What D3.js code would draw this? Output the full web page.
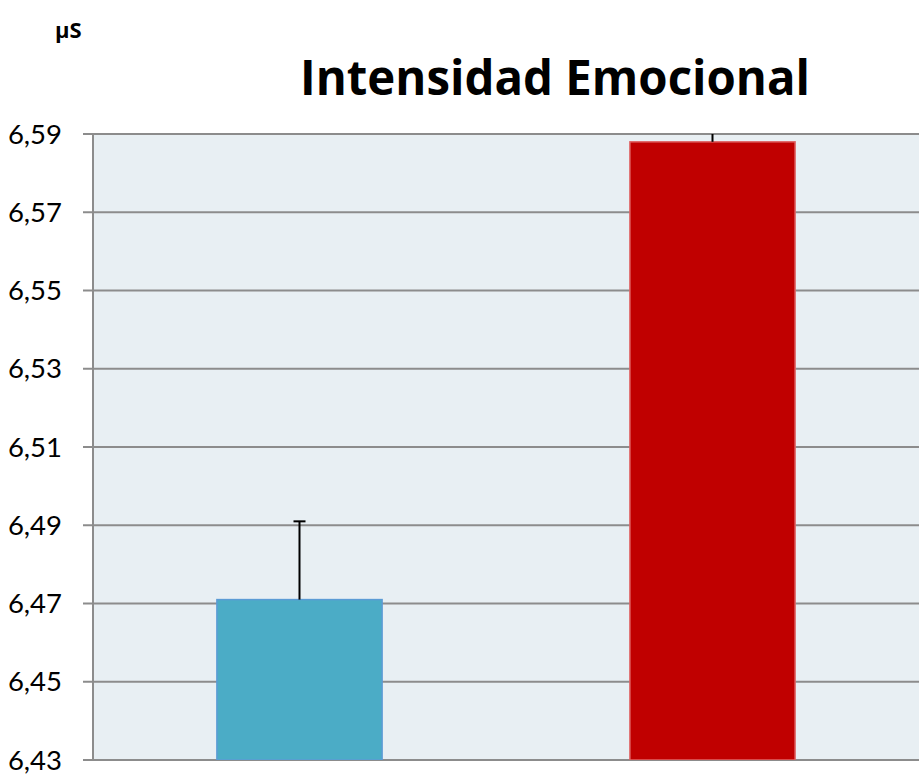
<!DOCTYPE html>
<html>
<head>
<meta charset="utf-8">
<script src="https://cdn.jsdelivr.net/npm/d3@7.9.0/dist/d3.min.js"></script>
<style>
  body { margin: 0; background: #fff; }
  svg { display: block; }
</style>
</head>
<body>
<svg id="chart" width="923" height="778"></svg>
<script>
// ====== DATA ======
const categories = ["Grupo A", "Grupo B"];
const values = [6.471, 6.588];
const errors = [0.020, 0.020];
const barColors = ["#4BACC6", "#C00000"];
const barStrokes = ["#5B9BD5", "#E06666"];
const yTicks = [6.43, 6.45, 6.47, 6.49, 6.51, 6.53, 6.55, 6.57, 6.59];

// ====== LAYOUT ======
const svg = d3.select("#chart");
const plotLeft = 93, plotRight = 919, plotTop = 134, plotBottom = 760;

const x = d3.scaleBand().domain(categories).range([plotLeft, plotRight]).paddingInner(0).paddingOuter(0);
const y = d3.scaleLinear().domain([6.43, 6.59]).range([plotBottom, plotTop]);
const fmt = d => d.toFixed(2).replace(".", ",");

// plot background
svg.append("rect")
  .attr("x", plotLeft).attr("y", plotTop)
  .attr("width", plotRight - plotLeft).attr("height", plotBottom - plotTop)
  .attr("fill", "#E8EFF3");

svg.append("defs").append("clipPath").attr("id", "plotClip")
  .append("rect").attr("x", plotLeft).attr("y", plotTop)
  .attr("width", plotRight - plotLeft).attr("height", plotBottom - plotTop);

// gridlines
svg.append("g").selectAll("line").data(yTicks).join("line")
  .attr("x1", plotLeft - 10).attr("x2", plotRight)
  .attr("y1", d => y(d)).attr("y2", d => y(d))
  .attr("stroke", "#8C8C8C").attr("stroke-width", 2);

// y axis line
svg.append("line")
  .attr("x1", plotLeft).attr("x2", plotLeft).attr("y1", plotTop).attr("y2", plotBottom)
  .attr("stroke", "#8C8C8C").attr("stroke-width", 2);

// tick labels
svg.append("g").selectAll("text").data(yTicks).join("text")
  .attr("x", 62).attr("y", d => y(d))
  .attr("dy", "0.35em")
  .attr("text-anchor", "end")
  .attr("font-family", "Lato, 'Open Sans', sans-serif")
  .attr("font-size", 27.5)
  .attr("fill", "#000")
  .text(fmt);

// bars
const barW = x.bandwidth() * 0.4;
const plot = svg.append("g").attr("clip-path", "url(#plotClip)");

plot.selectAll("rect.bar").data(categories).join("rect")
  .attr("class", "bar")
  .attr("x", d => x(d) + x.bandwidth() / 2 - barW / 2)
  .attr("y", (d, i) => y(values[i]))
  .attr("width", barW)
  .attr("height", (d, i) => plotBottom - y(values[i]))
  .attr("fill", (d, i) => barColors[i])
  .attr("stroke", (d, i) => barStrokes[i])
  .attr("stroke-width", 1.5);

// error bars (upper only)
categories.forEach((c, i) => {
  const cx = x(c) + x.bandwidth() / 2;
  const yEnd = y(values[i] + errors[i]);
  plot.append("line")
    .attr("x1", cx).attr("x2", cx)
    .attr("y1", y(values[i])).attr("y2", yEnd)
    .attr("stroke", "#000").attr("stroke-width", 2);
  plot.append("line")
    .attr("x1", cx - 6).attr("x2", cx + 6)
    .attr("y1", yEnd).attr("y2", yEnd)
    .attr("stroke", "#000").attr("stroke-width", 2);
});

// title
svg.append("text")
  .attr("x", 555).attr("y", 95)
  .attr("text-anchor", "middle")
  .attr("font-family", "'Open Sans', Lato, sans-serif")
  .attr("font-weight", "bold")
  .attr("font-size", 48)
  .attr("textLength", 510)
  .attr("lengthAdjust", "spacingAndGlyphs")
  .text("Intensidad Emocional");

// unit label
svg.append("text")
  .attr("x", 55).attr("y", 38)
  .attr("font-family", "'Open Sans', Lato, sans-serif")
  .attr("font-weight", "bold")
  .attr("font-size", 22)
  .text("µS");
</script>
</body>
</html>
